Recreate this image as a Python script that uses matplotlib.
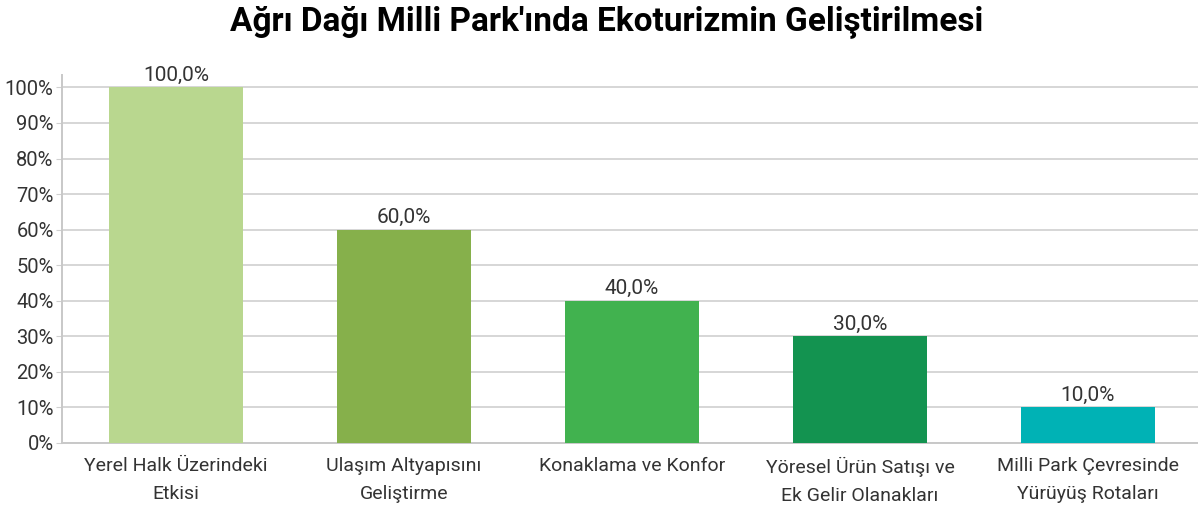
import matplotlib.pyplot as plt
from matplotlib.ticker import FuncFormatter

categories = ["Yerel Halk Üzerindeki\nEtkisi", "Ulaşım Altyapısını\nGeliştirme",
              "Konaklama ve Konfor", "Yöresel Ürün Satışı ve\nEk Gelir Olanakları",
              "Milli Park Çevresinde\nYürüyüş Rotaları"]
values = [1.00, 0.60, 0.40, 0.30, 0.10]
colors = ["#b9d78f", "#86b04b", "#41b24f", "#139350", "#00b2b5"]

plt.rcParams['font.family'] = ["Roboto", "DejaVu Sans"]

fig = plt.figure(figsize=(11.98, 5.2), dpi=100)
ax = fig.add_axes([62 / 1198, 77 / 520, 1140 / 1198, 368 / 520])

x = range(len(categories))
bars = ax.bar(x, values, width=0.59, color=colors, zorder=3)
for b, v in zip(bars, values):
    ax.text(b.get_x() + b.get_width() / 2, v + 0.007, f"{v*100:.1f}%".replace(".", ","),
            ha='center', va='bottom', fontsize=15, color="#333333")

ax.set_xlim(-0.5, len(categories) - 0.5)
ax.set_ylim(0, 1.035)
ax.set_yticks([i / 10 for i in range(11)])
ax.yaxis.set_major_formatter(FuncFormatter(lambda v, p: f"{v*100:.0f}%"))
ax.set_xticks(list(x))
ax.set_xticklabels(categories, fontsize=14, color="#333333", linespacing=1.75)
ax.tick_params(axis='y', labelsize=14.5, labelcolor="#333333", length=4, color="#d0d0d0", pad=2)
ax.tick_params(axis='x', length=0, pad=10)

ax.grid(axis='y', color="#d0d0d0", linewidth=1.2, zorder=0)
for s in ["top", "right"]:
    ax.spines[s].set_visible(False)
for s in ["left", "bottom"]:
    ax.spines[s].set_color("#c8c8c8")
    ax.spines[s].set_linewidth(1.4)

fig.suptitle("Ağrı Dağı Milli Park'ında Ekoturizmin Geliştirilmesi", x=0.506, y=0.99,
             fontsize=24, fontweight='bold', color="black")

fig.savefig("out.png", dpi=100)
